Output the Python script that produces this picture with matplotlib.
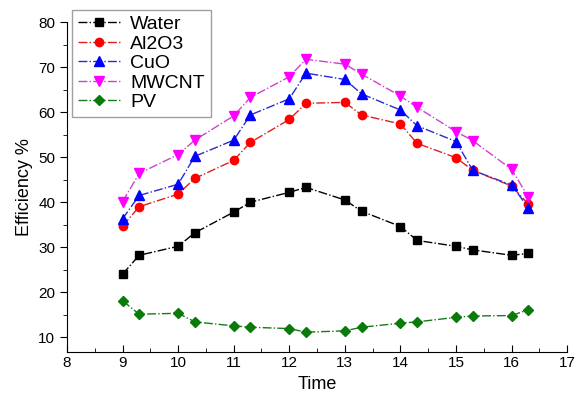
import matplotlib.pyplot as plt
from matplotlib.ticker import MultipleLocator

plt.rcParams['font.family'] = ['Liberation Sans', 'DejaVu Sans']

# hours of the day
time = [9, 9.3, 10, 10.3, 11, 11.3, 12, 12.3, 13, 13.3, 14, 14.3, 15, 15.3, 16, 16.3]

water = [24.0, 28.2, 30.2, 33.2, 37.8, 40.0, 42.2, 43.3, 40.5, 38.0, 34.6, 31.5, 30.2, 29.4, 28.2, 28.6]
al2o3 = [34.7, 39.0, 41.8, 45.3, 49.3, 53.3, 58.4, 62.0, 62.2, 59.4, 57.4, 53.1, 49.9, 47.1, 43.6, 39.6]
cuo = [36.3, 41.5, 44.0, 50.2, 53.8, 59.4, 63.0, 68.7, 67.3, 64.1, 60.5, 57.0, 53.5, 47.1, 43.8, 38.8]
mwcnt = [40.1, 46.4, 50.6, 53.8, 59.2, 63.3, 67.9, 71.8, 70.7, 68.5, 63.6, 61.1, 55.7, 53.7, 47.3, 41.2]
pv = [18.1, 15.1, 15.3, 13.4, 12.5, 12.2, 11.9, 11.1, 11.4, 12.2, 13.1, 13.4, 14.4, 14.7, 14.8, 16.1]

fig = plt.figure(figsize=(5.77, 3.99), dpi=100)
ax = fig.add_axes([0.116, 0.119, 0.867, 0.825])

ax.plot(time, water, '-.', color='black', marker='s', ms=6, lw=1, label='Water')
ax.plot(time, al2o3, '-.', color='#e0201a', mfc='red', mec='red', marker='o', ms=6, lw=1, label='Al2O3')
ax.plot(time, cuo, '-.', color='#2a2ad0', mfc='blue', mec='blue', marker='^', ms=7, lw=1, label='CuO')
ax.plot(time, mwcnt, '-.', color='#d040d0', mfc='#ff00ff', mec='#ff00ff', marker='v', ms=7, lw=1, label='MWCNT')
ax.plot(time, pv, '-.', color='#1a7a1a', mfc='#0a7a0a', mec='#0a7a0a', marker='D', ms=5.5, lw=1, label='PV')

ax.set_xlim(8, 17)
ax.set_ylim(6.8, 80)
ax.xaxis.set_major_locator(MultipleLocator(1))
ax.xaxis.set_minor_locator(MultipleLocator(0.5))
ax.yaxis.set_major_locator(MultipleLocator(10))
ax.yaxis.set_minor_locator(MultipleLocator(5))
ax.set_yticks(range(10, 81, 10))

ax.spines['top'].set_visible(False)
ax.spines['right'].set_visible(False)
ax.tick_params(axis='x', which='both', direction='in', labelsize=11)
ax.tick_params(axis='x', which='major', length=5)
ax.tick_params(axis='x', which='minor', length=3)
ax.tick_params(axis='y', which='both', direction='out', labelsize=11)
ax.tick_params(axis='y', which='major', length=5)
ax.tick_params(axis='y', which='minor', length=3)

ax.set_xlabel('Time', fontsize=13)
ax.set_ylabel('Efficiency %', fontsize=13)

leg = ax.legend(loc='upper left', bbox_to_anchor=(0.01, 1.039), fontsize=14,
                fancybox=False, edgecolor='#888888', handlelength=2.2,
                labelspacing=0.1, borderpad=0.3, handletextpad=0.5,
                borderaxespad=0)
leg.get_frame().set_linewidth(1)

plt.savefig('out.png', dpi=100)
